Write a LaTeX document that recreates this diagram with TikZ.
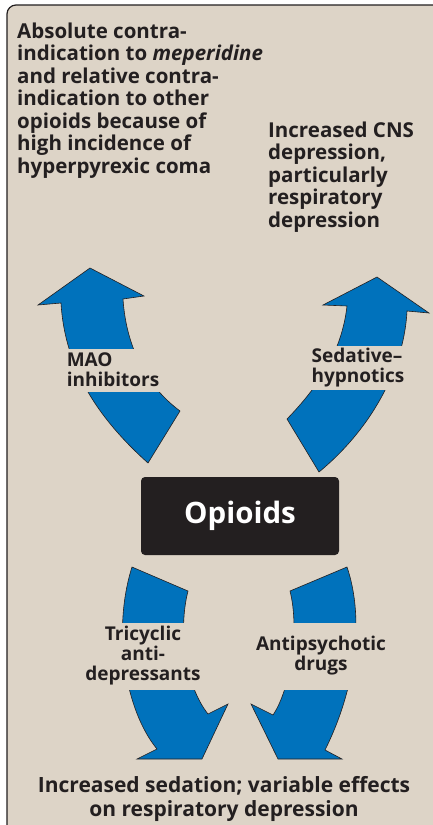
\documentclass[tikz,border=0pt]{standalone}
\usepackage{fontspec}
\setmainfont{Open Sans}
\usetikzlibrary{positioning}
\definecolor{panel}{RGB}{221,212,199}
\definecolor{arrowblue}{RGB}{0,114,188}
\definecolor{ink}{RGB}{35,31,32}

\begin{document}
\begin{tikzpicture}[
    x=1pt, y=-1pt,
    text=ink,
    txt/.style={align=left, inner sep=0pt, font=\bfseries\fontsize{20.5}{22.5}\selectfont},
    lbl/.style={fill=panel, inner xsep=4pt, inner ysep=0pt, font=\bfseries\fontsize{19}{20}\selectfont},
    box/.style={rectangle, rounded corners=4pt, fill=ink, text=white, minimum width=198pt, minimum height=78pt, font=\bfseries\fontsize{29.5}{36}\selectfont},
    bigarrow/.style={fill=arrowblue, draw=ink, line width=0.6pt}
]
\useasboundingbox (0,0) rectangle (433,825);
\fill[white] (0,0) rectangle (433,825);
\draw[fill=panel, draw=ink, line width=1.2pt, rounded corners=9pt] (7,5) rectangle (470,870);

% curved arrows
\draw[bigarrow] (148,463) .. controls (100,420) and (65,370) .. (61,303) -- (38,305) -- (90,268) -- (144,296) -- (123,299) .. controls (126,345) and (145,385) .. (180,411) -- cycle;
\draw[bigarrow] (287,419) .. controls (320,385) and (342,350) .. (347,306) -- (323,305) -- (377,277) -- (429,313) -- (407,311) .. controls (404,370) and (370,430) .. (319,472) -- cycle;
\draw[bigarrow] (132,567) -- (188,591) .. controls (178,630) and (185,685) .. (208,714) -- (228,704) -- (202,759) -- (137,759) -- (157,749) .. controls (125,710) and (112,630) .. cycle;
\draw[bigarrow] (290,591) -- (347,567) .. controls (365,620) and (355,690) .. (325,750) -- (342,759) -- (278,759) -- (251,704) -- (273,715) .. controls (290,690) and (300,630) .. cycle;

% drug labels
\node[lbl, align=left, minimum height=43pt] (mao) at (113,370) {MAO\\inhibitors};
\node[lbl, align=left, minimum height=44pt] (sed) at (358,368) {Sedative--\\hypnotics};
\node[lbl, align=center, minimum height=67pt] (tca) at (143,656) {Tricyclic\\anti-\\depressants};
\node[lbl, align=center, minimum height=67pt] (anti) at (321,656) {Antipsychotic\\drugs};

% effects
\node[txt, anchor=north west] (contra) at (17,22.5) {Absolute contra-\\indication to \textit{meperidine}\\and relative contra-\\indication to other\\opioids because of\\high incidence of\\hyperpyrexic coma};
\node[txt, anchor=north west] (cns) at (268,121.5) {Increased CNS\\depression,\\particularly\\respiratory\\depression};
\node[txt, align=center, anchor=north, font=\bfseries\fontsize{21}{24}\selectfont] (sedation) at (224,776) {Increased sedation; variable effects\\on respiratory depression};

\node[box] (opioids) at (240,516) {Opioids};
\end{tikzpicture}
\end{document}
